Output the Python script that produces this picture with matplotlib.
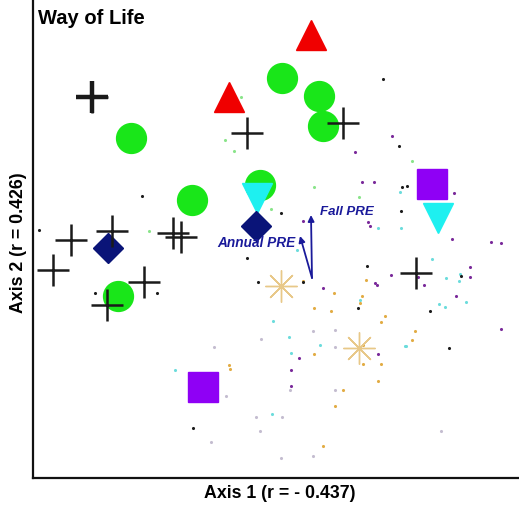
import matplotlib
matplotlib.use("Agg")
import matplotlib.pyplot as plt

plt.rcParams['font.family'] = ['Liberation Sans', 'DejaVu Sans']

# Coordinates (units: axis 1 right, axis 2 up)
cross_x = [59, 214, 310, 38, 79, 20, 140, 148, 111, 74, 383]
cross_y = [381, 345, 355, 238, 247, 208, 245, 241, 196, 173, 205]

circle_x = [249, 286, 290, 98, 159, 227, 85]
circle_y = [400, 382, 352, 340, 278, 293, 182]

tri_up_x = [278, 196]
tri_up_y = [443, 381]

tri_down_x = [224, 405]
tri_down_y = [280, 260]

square_x = [399, 170]
square_y = [294, 91]

diamond_x = [75, 223]
diamond_y = [230, 252]

star_x = [248, 326]
star_y = [192, 130]

# small sample points: (x, y) by colour group
black_x = [350, 366, 374, 369, 368, 248, 214, 109, 225, 124, 62, 160, 334, 270, 325, 428, 397, 416, 6]
black_y = [399, 332, 292, 291, 267, 265, 220, 282, 196, 185, 185, 50, 212, 196, 170, 202, 167, 130, 248]
purple_x = [359, 322, 329, 341, 421, 270, 335, 337, 419, 458, 437, 385, 391, 437, 423, 468, 468, 358, 290, 342, 344, 266, 258, 258, 345]
purple_y = [342, 326, 296, 296, 285, 257, 256, 252, 239, 236, 211, 201, 193, 201, 182, 149, 235, 203, 190, 195, 193, 120, 108, 92, 124]
cyan_x = [367, 345, 373, 327, 368, 399, 427, 433, 413, 426, 406, 412, 372, 240, 256, 287, 258, 142, 239, 264]
cyan_y = [286, 250, 132, 178, 250, 219, 204, 176, 200, 197, 174, 171, 132, 157, 141, 133, 125, 108, 64, 228]
orange_x = [411, 270, 301, 298, 333, 329, 327, 352, 348, 382, 379, 330, 281, 330, 345, 310, 302, 290, 196, 197, 281, 348]
orange_y = [266, 197, 185, 167, 198, 182, 175, 162, 156, 147, 138, 133, 124, 114, 97, 88, 72, 32, 113, 109, 170, 114]
green_x = [208, 192, 201, 116, 238, 281, 326, 379]
green_y = [381, 338, 327, 247, 269, 291, 281, 317]
grey_x = [280, 257, 302, 302, 181, 193, 178, 249, 227, 408, 248, 280, 228, 302, 223]
grey_y = [147, 88, 88, 131, 131, 82, 36, 61, 47, 47, 20, 22, 139, 148, 61]

# environmental vectors
vec_names = ['Fall PRE', 'Annual PRE']
vec_origin = (279, 200)
vec_dx = [-1, -12]
vec_dy = [63, 42]

fig = plt.figure(figsize=(5.19, 5.08), dpi=100)
ax = fig.add_axes([33 / 519, 30 / 508, 486 / 519, 478 / 508])
ax.set_xlim(0, 486)
ax.set_ylim(0, 478)
for s in ['top', 'right']:
    ax.spines[s].set_visible(False)
for s in ['left', 'bottom']:
    ax.spines[s].set_linewidth(1.6)
    ax.spines[s].set_color('#111111')
ax.set_xticks([])
ax.set_yticks([])

dot = dict(s=5, linewidths=0, zorder=2)
ax.scatter(grey_x, grey_y, c='#c4bdd0', **dot)
ax.scatter(cyan_x, cyan_y, c='#6cdcdc', **dot)
ax.scatter(orange_x, orange_y, c='#e2ac44', **dot)
ax.scatter(green_x, green_y, c='#8ae48a', **dot)
ax.scatter(purple_x, purple_y, c='#7a2a9a', **dot)
ax.scatter(black_x, black_y, c='#1c1c1c', **dot)

ax.plot(star_x, star_y, ls='none', marker=(8, 2, 0), ms=23, mew=1.0,
        mec='#e8c888', zorder=3)
ax.plot(circle_x, circle_y, ls='none', marker='o', ms=21.5, mfc='#19e619',
        mec='#19e619', zorder=3)
ax.plot(tri_up_x, tri_up_y, ls='none', marker='^', ms=22, mfc='#f00000',
        mec='#f00000', zorder=4)
ax.plot(tri_down_x, tri_down_y, ls='none', marker='v', ms=22, mfc='#1ef0f0',
        mec='#1ef0f0', zorder=4)
ax.plot(square_x, square_y, ls='none', marker='s', ms=21.5, mfc='#8f00f5',
        mec='#8f00f5', zorder=4)
ax.plot(diamond_x, diamond_y, ls='none', marker='D', ms=15.5, mfc='#0a1478',
        mec='#0a1478', zorder=5)
ax.plot(cross_x, cross_y, ls='none', marker='+', ms=23, mew=1.8,
        mec='#1a1a1a', zorder=6)
ax.plot([cross_x[0]], [cross_y[0]], ls='none', marker='+', ms=23, mew=3.2,
        mec='#1a1a1a', zorder=6)

ox, oy = vec_origin
for name, dx, dy in zip(vec_names, vec_dx, vec_dy):
    ax.annotate('', xy=(ox + dx, oy + dy), xytext=(ox, oy),
                arrowprops=dict(arrowstyle='-|>', color='#1a1a9a', lw=1.3,
                                mutation_scale=9, shrinkA=0, shrinkB=0),
                zorder=7)
ax.text(ox + 8, oy + 66, vec_names[0], color='#1a1a9a', fontsize=9.5,
        fontweight='bold', fontstyle='italic', ha='left', va='center', zorder=8)
ax.text(ox - 56, oy + 35, vec_names[1], color='#1a1a9a', fontsize=9.8,
        fontweight='bold', fontstyle='italic', ha='center', va='center', zorder=8)

fig.text(38 / 519, 1 - 18 / 508, 'Way of Life', fontsize=14.5, fontweight='bold',
         ha='left', va='center')
fig.text(280 / 519, 1 - 493 / 508, 'Axis 1 (r = - 0.437)', fontsize=12.8,
         fontweight='bold', ha='center', va='center')
fig.text(19 / 519, 1 - 243 / 508, 'Axis 2 (r = 0.426)', fontsize=12.8,
         fontweight='bold', ha='center', va='center', rotation=90)

fig.savefig('out.png', dpi=100)
